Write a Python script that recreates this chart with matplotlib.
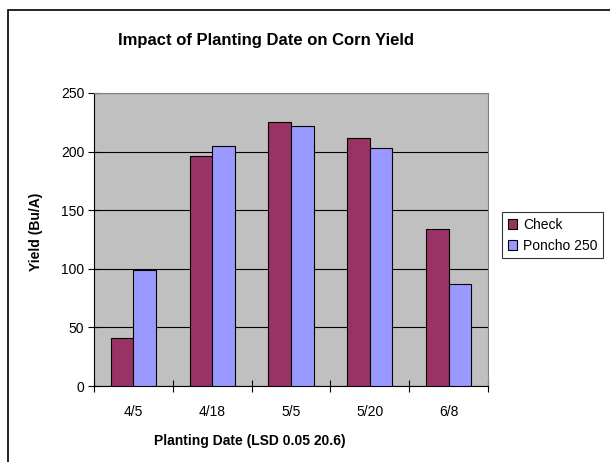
import matplotlib.pyplot as plt
import matplotlib.patches as mpatches
import numpy as np

# data
dates = ["4/5", "4/18", "5/5", "5/20", "6/8"]
check = [41, 196, 225, 212, 134]
poncho = [99, 205, 222, 203, 87]

plt.rcParams['font.family'] = ['Liberation Sans', 'DejaVu Sans']

W, H = 610, 462
fig = plt.figure(figsize=(W / 100, H / 100), dpi=100)

# outer chart frame
fig.patches.append(mpatches.Rectangle((8 / W, -0.05), 1.1, 1 - 10 / H + 0.05,
                                      transform=fig.transFigure, fill=False,
                                      edgecolor='black', linewidth=1.2))

ax = fig.add_axes([94 / W, 1 - 386 / H, (488 - 94) / W, (386 - 93) / H])
ax.set_facecolor('#C0C0C0')

ind = np.arange(len(dates))
width = 1 / 3.5

ax.bar(ind - width / 2, check, width, color='#993366', edgecolor='black',
       linewidth=0.8, label="Check", zorder=3)
ax.bar(ind + width / 2, poncho, width, color='#9999FF', edgecolor='black',
       linewidth=0.8, label="Poncho 250", zorder=3)

ax.set_xlim(-0.5, len(dates) - 0.5)
ax.set_ylim(0, 250)
ax.set_yticks(np.arange(0, 251, 50))
ax.yaxis.grid(True, color='black', linewidth=0.8, zorder=1)
ax.set_axisbelow(True)

# category boundary ticks, labels centered
ax.set_xticks(np.arange(-0.5, len(dates), 1.0))
ax.set_xticklabels([])
ax.set_xticks(ind, minor=True)
ax.set_xticklabels(dates, minor=True, fontsize=10)
ax.tick_params(axis='x', which='minor', length=0, pad=14)
ax.tick_params(axis='x', which='major', direction='inout', length=8, width=0.8)
ax.tick_params(axis='y', direction='inout', length=8, width=0.8, labelsize=10, pad=3)

for side in ['top', 'right']:
    ax.spines[side].set_color('#808080')
for side in ['left', 'bottom']:
    ax.spines[side].set_linewidth(0.8)

# titles placed like the original chart
fig.text(266 / W, 1 - 40 / H, "Impact of Planting Date on Corn Yield",
         fontsize=12, fontweight='bold', ha='center', va='center')
fig.text(36 / W, 1 - 232 / H, "Yield (Bu/A)", fontsize=10, fontweight='bold',
         rotation=90, ha='center', va='center')
fig.text(250 / W, 1 - 441 / H, "Planting Date (LSD 0.05 20.6)", fontsize=10,
         fontweight='bold', ha='center', va='center')

leg = fig.legend(loc='upper left', bbox_to_anchor=(502 / W, 1 - 212 / H),
                 fontsize=10, frameon=True, fancybox=False, edgecolor='black',
                 handlelength=0.7, handleheight=0.7, handletextpad=0.4,
                 borderpad=0.4, labelspacing=0.5, borderaxespad=0)
leg.get_frame().set_linewidth(0.8)

plt.savefig("out.png", dpi=100)
